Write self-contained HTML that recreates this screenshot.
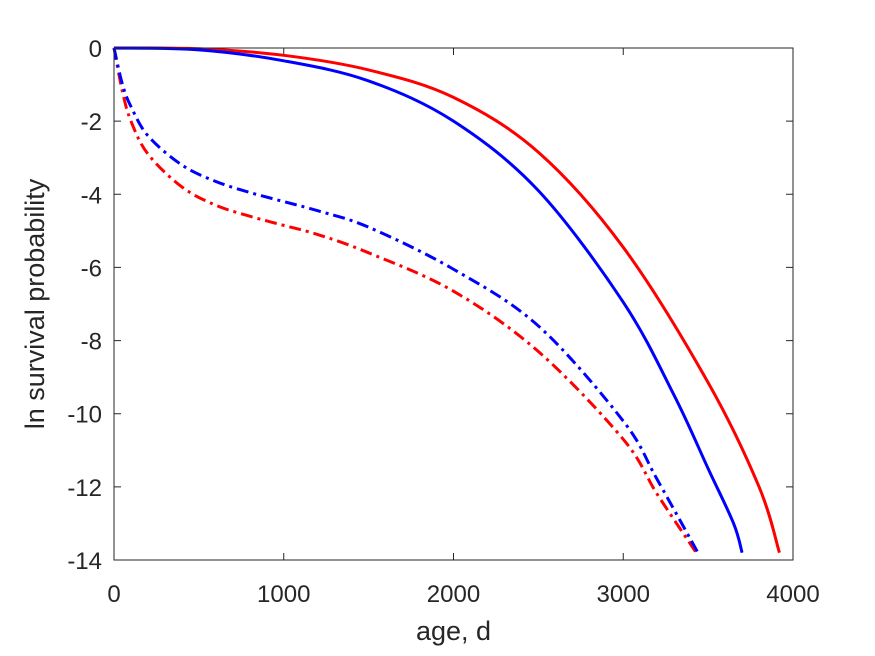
<!DOCTYPE html>
<html><head><meta charset="utf-8"><style>
html,body{margin:0;padding:0;background:#fff;}
svg{display:block;font-family:"Liberation Sans",sans-serif;}
</style></head><body>
<svg id="chart" width="875" height="656"></svg>
<script>
const xTicks=[0,1000,2000,3000,4000];
const yTicks=[0,-2,-4,-6,-8,-10,-12,-14];
const redSolidX=[0,500,1000,1500,2000,2500,3000,3500,3800,3920];
const redSolidY=[0,-0.02,-0.2,-0.6,-1.35,-2.85,-5.45,-9.15,-12.0,-13.8];
const blueSolidX=[0,500,1000,1500,2000,2500,3000,3300,3500,3650,3700];
const blueSolidY=[0,-0.05,-0.35,-0.9,-2.0,-3.9,-6.95,-9.5,-11.5,-13.0,-13.8];
const blueDashX=[0,50,100,200,400,600,800,1000,1200,1500,2000,2500,3000,3200,3440];
const blueDashY=[0,-1.0,-1.6,-2.4,-3.2,-3.65,-3.95,-4.2,-4.45,-4.9,-6.05,-7.6,-10.2,-11.8,-13.8];
const redDashX=[0,50,100,200,400,600,800,1000,1200,1500,2000,2500,3000,3200,3430];
const redDashY=[0,-1.2,-2.0,-2.9,-3.8,-4.3,-4.6,-4.85,-5.1,-5.6,-6.65,-8.3,-10.7,-12.2,-13.8];

const svg=document.getElementById('chart');
const NS='http://www.w3.org/2000/svg';
const L=114,R=793,T=48,B=560;
const xs=v=>L+(v-0)/(4000)*(R-L);
const ys=v=>T+(0-v)/14*(B-T);
function mk(tag,attrs,parent){const e=document.createElementNS(NS,tag);for(const k in attrs)e.setAttribute(k,attrs[k]);(parent||svg).appendChild(e);return e;}

const axes=mk('g',{});


xTicks.forEach(t=>{
  const x=xs(t);
  const tk=mk('path',{d:`M${x},${B}V${B-7}M${x},${T}V${T+7}`,stroke:'#262626','stroke-width':1},axes);
  
  
  const lb=mk('text',{x:x,y:B+42,'text-anchor':'middle','font-size':24,fill:'#262626'},axes);
  lb.textContent=t;
  
  
});
yTicks.forEach(t=>{
  const y=ys(t);
  const tk=mk('path',{d:`M${L},${y}H${L+7}M${R},${y}H${R-7}`,stroke:'#262626','stroke-width':1},axes);
  
  
  const lb=mk('text',{x:L-12,y:y+9,'text-anchor':'end','font-size':24,fill:'#262626'},axes);
  lb.textContent=t;
  
  
});

function smooth(X,Y){
  const p=X.map((x,i)=>[xs(x),ys(Y[i])]);
  let d=`M${p[0][0]},${p[0][1]}`;
  for(let i=0;i<p.length-1;i++){
    const p0=p[Math.max(i-1,0)],p1=p[i],p2=p[i+1],p3=p[Math.min(i+2,p.length-1)];
    const c1=[p1[0]+(p2[0]-p0[0])/6,p1[1]+(p2[1]-p0[1])/6];
    const c2=[p2[0]-(p3[0]-p1[0])/6,p2[1]-(p3[1]-p1[1])/6];
    d+=`C${c1[0]},${c1[1]} ${c2[0]},${c2[1]} ${p2[0]},${p2[1]}`;
  }
  return d;
}
function line(X,Y,color,dash,name){
  const e=mk('path',{d:smooth(X,Y),fill:'none',stroke:color,'stroke-width':3});
  if(dash)e.setAttribute('stroke-dasharray',dash);
  
  
}
line(redSolidX,redSolidY,'#ff0000',null,'red-solid-line');
line(blueSolidX,blueSolidY,'#0000ff',null,'blue-solid-line');
line(redDashX,redDashY,'#ff0000','12,5,3,5','red-dashdot-line');
line(blueDashX,blueDashY,'#0000ff','12,5,3,5','blue-dashdot-line');

const box=mk('rect',{x:L,y:T,width:R-L,height:B-T,fill:'none',stroke:'#262626','stroke-width':1});



const xl=mk('text',{x:(L+R)/2,y:640,'text-anchor':'middle','font-size':27,fill:'#262626'});
xl.textContent='age, d';


const yl=mk('text',{x:0,y:0,'text-anchor':'middle','font-size':27,fill:'#262626',transform:`translate(44,${(T+B)/2}) rotate(-90)`});
yl.textContent='ln survival probability';


</script>
</body></html>
